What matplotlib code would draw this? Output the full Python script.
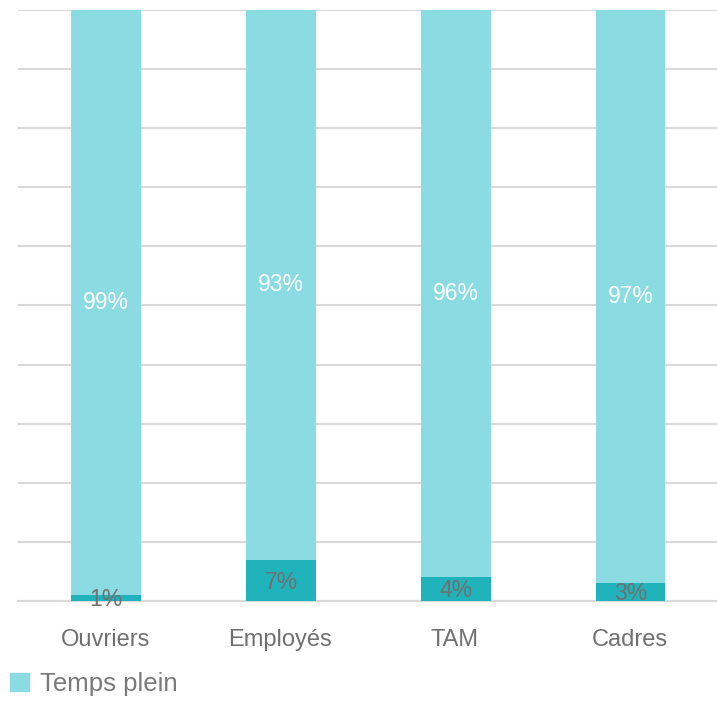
import numpy as np
import matplotlib.pyplot as plt
from matplotlib.patches import Patch

categories = ["Ouvriers", "Employés", "TAM", "Cadres"]
temps_partiel = [1, 7, 4, 3]
temps_plein = [99, 93, 96, 97]

light = "#8BDCE2"
dark = "#21B3BC"
grey = "#707070"

plt.rcParams['font.family'] = ['Liberation Sans', 'DejaVu Sans']

fig = plt.figure(figsize=(7.17, 7.01), dpi=100)
ax = fig.add_axes([0.025, 0.1427, 0.975, 0.843])

x = np.arange(len(categories))
b1 = ax.bar(x + 0.005, temps_partiel, width=0.4, color=dark, zorder=3)
b2 = ax.bar(x + 0.005, temps_plein, width=0.4, bottom=temps_partiel, color=light, zorder=3)

for rect, v in zip(b1, temps_partiel):
    ax.text(rect.get_x() + rect.get_width() / 2, rect.get_y() + rect.get_height() / 2 - 0.3,
            f"{v}%", ha="center", va="center", color=grey, fontsize=16.5, zorder=4)
for rect, v in zip(b2, temps_plein):
    ax.text(rect.get_x() + rect.get_width() / 2, rect.get_y() + rect.get_height() / 2,
            f"{v}%", ha="center", va="center", color="white", fontsize=16.5, zorder=4)

ax.set_xlim(-0.5, 3.5)
ax.set_ylim(0, 100)
ax.set_yticks(np.arange(0, 101, 10))
ax.set_yticklabels([])
ax.yaxis.grid(True, color="#D9D9D9", linewidth=1.5, zorder=0)
ax.tick_params(axis="both", length=0)
ax.set_xticks(x)
ax.set_xticklabels(categories, fontsize=17, color=grey)
ax.tick_params(axis="x", pad=20)
for s in ["top", "right", "left"]:
    ax.spines[s].set_visible(False)
ax.spines["bottom"].set_color("#D9D9D9")
ax.spines["bottom"].set_linewidth(1.5)

fig.legend(handles=[Patch(color=light, label="Temps plein")], loc="center left",
           bbox_to_anchor=(10 / 717, 1 - 684 / 701), frameon=False,
           borderpad=0, borderaxespad=0,
           handlelength=0.75, handleheight=0.75, handletextpad=0.4,
           labelcolor="#7A7A7A", prop={'size': 18.5})

fig.savefig("out.png", dpi=100)
